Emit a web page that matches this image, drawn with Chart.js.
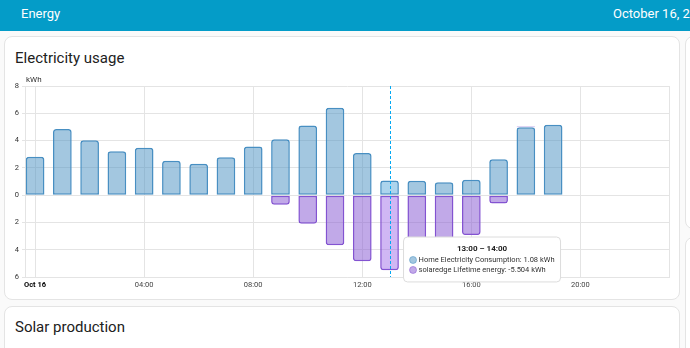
<!DOCTYPE html>
<html lang="en">
<head>
    <meta charset="UTF-8">
    <title>Energy</title>
    <script src="https://cdn.jsdelivr.net/npm/chart.js"></script>
    <style>
        html, body {
            margin: 0;
            width: 690px;
            height: 348px;
            overflow: hidden;
            background-color: #fafafa;
            font-family: Roboto, 'Noto Sans', sans-serif;
        }
        .header {
            position: absolute;
            left: 0; top: 0;
            width: 690px; height: 31px;
            background-color: #049cc8;
            color: #fff;
            font-size: 13px;
            line-height: 28px;
            white-space: nowrap;
        }
        .header span { position: absolute; top: 0; }
        .card {
            position: absolute;
            background: #fff;
            border: 1px solid #e4e4e4;
            border-radius: 8px;
            box-sizing: border-box;
        }
        .card-title {
            position: absolute;
            left: 10px;
            font-size: 15px;
            color: #212121;
            white-space: nowrap;
        }
        .chart-box {
            position: absolute;
            left: 6px; top: 70px;
            width: 668px; height: 228px;
        }
    </style>
</head>
<body>

<div class="header">
    <span style="left:21px">Energy</span>
    <span style="left:613px">October 16, 20</span>
</div>

<!-- Electricity usage card -->
<div class="card" style="left:4px; top:36px; width:676px; height:264px;">
    <div class="card-title" style="top:12px;">Electricity usage</div>
</div>
<div class="chart-box">
    <canvas id="usageChart" width="668" height="228"></canvas>
</div>

<!-- next card, cut off at the bottom -->
<div class="card" style="left:4px; top:306px; width:676px; height:80px;">
    <div class="card-title" style="top:11px;">Solar production</div>
</div>

<!-- right column cards, mostly off screen -->
<div class="card" style="left:685px; top:36px; width:40px; height:193px;"></div>
<div class="card" style="left:685px; top:237px; width:40px; height:140px;"></div>

<script>
    // hourly buckets, Oct 16 (hour of day)
    const hours = [0, 1, 2, 3, 4, 5, 6, 7, 8, 9, 10, 11, 12, 13, 14, 15, 16, 17, 18, 19];
    const consumption = [2.81, 4.84, 4.03, 3.22, 3.47, 2.52, 2.30, 2.78, 3.57, 4.10,
                         5.11, 6.40, 3.08, 1.08, 1.05, 0.95, 1.13, 2.64, 4.98, 5.16];
    const solar = [null, null, null, null, null, null, null, null, null, -0.70,
                   -2.10, -3.68, -4.84, -5.504, -4.55, -3.8, -2.93, -0.61, 0.06, null];
    const seriesNames = ['Home Electricity Consumption', 'solaredge Lifetime energy'];
    const yTicks = [-6, -4, -2, 0, 2, 4, 6, 8];
    const hoverIndex = 13;

    Chart.defaults.font.family = 'Roboto';

    function pad(n) { return (n < 10 ? '0' : '') + n; }

    // fixed spot for the tooltip, next to the hovered bar
    Chart.Tooltip.positioners.besideBar = function(elements) {
        if (!elements.length) return false;
        const el = elements[0].element;
        return { x: el.x + 18, y: this.chart.chartArea.bottom - 40 };
    };

    const extras = {
        id: 'extras',
        afterDatasetsDraw(chart) {
            const ctx = chart.ctx;
            const area = chart.chartArea;
            ctx.save();
            // right border of the plot
            ctx.strokeStyle = '#e4e4e4';
            ctx.lineWidth = 1;
            ctx.beginPath();
            ctx.moveTo(Math.round(area.right) + 0.5, area.top);
            ctx.lineTo(Math.round(area.right) + 0.5, area.bottom);
            ctx.stroke();
            // dashed hover line
            const x = chart.scales.x.getPixelForValue(hours[hoverIndex]);
            ctx.strokeStyle = '#03a9f4';
            ctx.setLineDash([3, 2]);
            ctx.beginPath();
            ctx.moveTo(Math.round(x) + 0.5, area.top);
            ctx.lineTo(Math.round(x) + 0.5, area.bottom);
            ctx.stroke();
            ctx.setLineDash([]);
            // unit label
            ctx.fillStyle = '#333';
            ctx.font = '8px Roboto';
            ctx.textBaseline = 'middle';
            ctx.fillText('kWh', area.left + 1, area.top - 6);
            ctx.restore();
        }
    };

    // round only the outer end of each bar
    function radius(ctx) {
        const v = ctx.raw ? ctx.raw.y : 0;
        if (v >= 0) return { topLeft: 3, topRight: 3, bottomLeft: 0, bottomRight: 0 };
        return { topLeft: 0, topRight: 0, bottomLeft: 3, bottomRight: 3 };
    }

    const chart = new Chart(document.getElementById('usageChart'), {
        type: 'bar',
        data: {
            labels: hours,
            datasets: [{
                label: seriesNames[0],
                data: hours.map((h, i) => ({ x: h, y: consumption[i] })),
                backgroundColor: 'rgba(72,143,194,0.5)',
                borderColor: '#488fc2',
                hoverBackgroundColor: 'rgba(90,170,220,0.5)',
                hoverBorderColor: '#488fc2',
                borderWidth: 1.5,
                hoverBorderWidth: 1.5,
                borderSkipped: false,
                borderRadius: radius,
                stack: 'energy'
            }, {
                label: seriesNames[1],
                data: hours.map((h, i) => ({ x: h, y: solar[i] })),
                backgroundColor: 'rgba(131,83,209,0.5)',
                borderColor: '#8353d1',
                hoverBackgroundColor: 'rgba(150,95,230,0.45)',
                hoverBorderColor: '#8353d1',
                borderWidth: 1.5,
                hoverBorderWidth: 1.5,
                borderSkipped: false,
                borderRadius: radius,
                stack: 'energy'
            }]
        },
        options: {
            responsive: false,
            animation: false,
            events: [],
            barPercentage: 0.686,
            categoryPercentage: 1,
            layout: { padding: { top: 16, right: 5, left: 0, bottom: 0 } },
            scales: {
                x: {
                    type: 'linear',
                    stacked: true,
                    offset: false,
                    min: -0.37,
                    max: 23.25,
                    afterFit: (s) => { s.height = 21; },
                    grid: { color: '#e4e4e4', drawTicks: false, offset: false },
                    border: { color: '#e4e4e4' },
                    ticks: {
                        stepSize: 4,
                        includeBounds: false,
                        maxRotation: 0,
                        padding: 4,
                        color: (c) => c.tick && c.tick.value === 0 ? '#000' : '#444',
                        font: (c) => ({ size: 7.5, weight: c.tick && c.tick.value === 0 ? 'bold' : 'normal' }),
                        callback: (v) => v === 0 ? 'Oct 16' : pad(v) + ':00'
                    }
                },
                y: {
                    stacked: true,
                    min: yTicks[0],
                    max: yTicks[yTicks.length - 1],
                    afterFit: (s) => { s.width = 19; },
                    grid: { color: '#e4e4e4', tickLength: 3 },
                    border: { color: '#e4e4e4' },
                    ticks: {
                        stepSize: 2,
                        padding: 3,
                        color: '#333',
                        font: { size: 7.5 },
                        callback: (v) => Math.abs(v)
                    }
                }
            },
            plugins: {
                legend: { display: false },
                tooltip: {
                    position: 'besideBar',
                    xAlign: 'left',
                    yAlign: 'top',
                    caretSize: 0,
                    caretPadding: 0,
                    cornerRadius: 4,
                    backgroundColor: '#fff',
                    borderColor: '#dcdcdc',
                    borderWidth: 1,
                    titleColor: '#222',
                    bodyColor: '#333',
                    titleAlign: 'center',
                    titleFont: { size: 8, weight: 'bold', lineHeight: 1.25 },
                    bodyFont: { size: 7.5, lineHeight: 1.33 },
                    titleMarginBottom: 1,
                    bodySpacing: 0,
                    padding: { top: 7, bottom: 7, left: 6, right: 6 },
                    usePointStyle: true,
                    boxWidth: 7,
                    boxHeight: 7,
                    callbacks: {
                        title: (items) => {
                            const h = items[0].parsed.x;
                            return pad(h) + ':00 – ' + pad(h + 1) + ':00';
                        },
                        label: (item) => item.dataset.label + ': ' + item.raw.y + ' kWh',
                        labelColor: (item) => ({
                            borderColor: item.dataset.backgroundColor,
                            backgroundColor: item.dataset.backgroundColor,
                            borderWidth: 0
                        }),
                        labelPointStyle: () => ({ pointStyle: 'circle', rotation: 0 })
                    }
                }
            }
        },
        plugins: [extras]
    });

    const active = [
        { datasetIndex: 0, index: hoverIndex },
        { datasetIndex: 1, index: hoverIndex }
    ];
    chart.setActiveElements(active);
    chart.tooltip.setActiveElements(active, { x: 0, y: 0 });
    chart.update();
</script>

</body>
</html>
